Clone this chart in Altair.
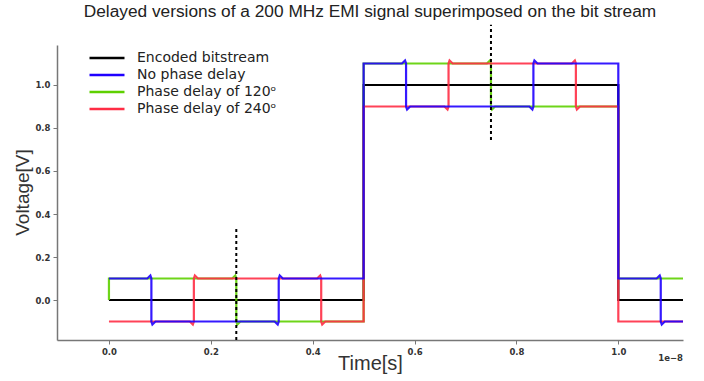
import altair as alt
import pandas as pd

# ---- data (time in units of 1e-8 s) ----
T_END = 1.127
series_names = ["Encoded bitstream", "No phase delay",
                "Phase delay of 120ᵒ", "Phase delay of 240ᵒ"]
series_colors = ["#000000", "#1f00ff", "#5ed000", "#ff2d45"]

# (transition time, new level) for each series
bit_t = [0.0, 0.5, 1.0]
bit_v = [0.0, 1.0, 0.0]

blue_t = [0.0, 0.0833, 0.3333, 0.5, 0.5833, 0.8333, 1.0, 1.0833]
blue_v = [0.1, -0.1, 0.1, 1.1, 0.9, 1.1, 0.1, -0.1]

green_t = [0.0, 0.0, 0.25, 0.5, 0.75, 1.0]
green_v = [0.0, 0.1, -0.1, 1.1, 0.9, 0.1]

red_t = [0.0, 0.1667, 0.4167, 0.5, 0.6667, 0.9167, 1.0]
red_v = [-0.1, 0.1, -0.1, 0.9, 1.1, 0.9, -0.1]

RING = 0.014  # small overshoot seen at each EMI edge

vline_x = [0.25, 0.75]
vline_lo = [-0.186, 0.744]
vline_hi = [0.34, 1.28]


def build(name, ts, vs, ring):
    rows = []
    prev = None
    for t, v in zip(ts, vs):
        if prev is None:
            rows.append((t, v))
        else:
            d = v - prev
            if ring and abs(abs(d) - 0.2) < 1e-6:
                s = 1 if d > 0 else -1
                rows += [(t - 0.008, prev), (t - 0.002, prev - s * RING),
                         (t, prev), (t, v),
                         (t + 0.002, v + s * RING), (t + 0.008, v)]
            else:
                rows += [(t, prev), (t, v)]
        prev = v
    rows.append((T_END, prev))
    return pd.DataFrame({"t": [r[0] for r in rows], "v": [r[1] for r in rows],
                         "series": name, "i": range(len(rows))})


frames = [build(series_names[0], bit_t, bit_v, False),
          build(series_names[2], green_t, green_v, True),
          build(series_names[3], red_t, red_v, True),
          build(series_names[1], blue_t, blue_v, True)]

xs = alt.Scale(domain=[-0.102, T_END], nice=False, zero=False)
ys = alt.Scale(domain=[-0.186, 1.186], nice=False, zero=False)
cs = alt.Scale(domain=series_names, range=series_colors)

layers = []
for k, df in enumerate(frames):
    layers.append(
        alt.Chart(df).mark_line(strokeWidth=2.2, opacity=0.9 if k else 1.0)
        .encode(
            x=alt.X("t:Q", scale=xs,
                    axis=alt.Axis(title="Time[s]", values=[0, 0.2, 0.4, 0.6, 0.8, 1.0],
                                  format=".1f", titleX=313, titleY=29,
                                  titleBaseline="alphabetic")),
            y=alt.Y("v:Q", scale=ys,
                    axis=alt.Axis(title="Voltage[V]", values=[0, 0.2, 0.4, 0.6, 0.8, 1.0],
                                  format=".1f", titleX=-29, titleY=147,
                                  titleBaseline="alphabetic")),
            color=alt.Color("series:N", scale=cs, title=None,
                            legend=alt.Legend(orient="none", legendX=40, legendY=3,
                                              symbolType="M-2,0H2", symbolSize=306,
                                              symbolStrokeWidth=2.5, labelFontSize=14,
                                              labelFont="DejaVu Sans", labelColor="#222",
                                              labelOffset=20, rowPadding=-0.3,
                                              labelLimit=400)),
            order="i:Q",
        )
    )

vl = pd.DataFrame({"x": vline_x, "lo": vline_lo, "hi": vline_hi})
dashed = alt.Chart(vl).mark_rule(color="black", strokeWidth=2, strokeDash=[3, 3]).encode(
    x=alt.X("x:Q", scale=xs), y=alt.Y("lo:Q", scale=ys), y2="hi:Q")

offset_txt = alt.Chart(pd.DataFrame({"s": ["1e−8"]})).mark_text(
    align="right", baseline="middle", fontSize=8.5, fontWeight="bold",
    font="DejaVu Sans", color="#333").encode(
    text="s:N", x=alt.value(626), y=alt.value(313))

chart = alt.layer(*layers, dashed, offset_txt).properties(
    width=626, height=295,
    title=alt.TitleParams("Delayed versions of a 200 MHz EMI signal superimposed on the bit stream",
                          font="Liberation Sans", fontSize=17.3, fontWeight="normal",
                          color="#222", offset=3, anchor="middle"),
    autosize=alt.AutoSizeParams(type="none"),
    padding={"left": 57, "top": 45, "right": 21, "bottom": 41},
).configure_view(stroke=None).configure_axis(
    grid=False, domainColor="#777", domainWidth=1.5, tickColor="#777", tickSize=4,
    labelFont="DejaVu Sans", labelFontSize=8.5, labelFontWeight="bold", labelColor="#333",
    titleFont="Liberation Sans", titleFontWeight="normal", titleColor="#333",
).configure_axisX(titleFontSize=20, labelPadding=3).configure_axisY(
    titleFontSize=19, labelPadding=3, titleAngle=-90)

chart.save("out.html", embed_options={"renderer": "svg", "actions": False})
